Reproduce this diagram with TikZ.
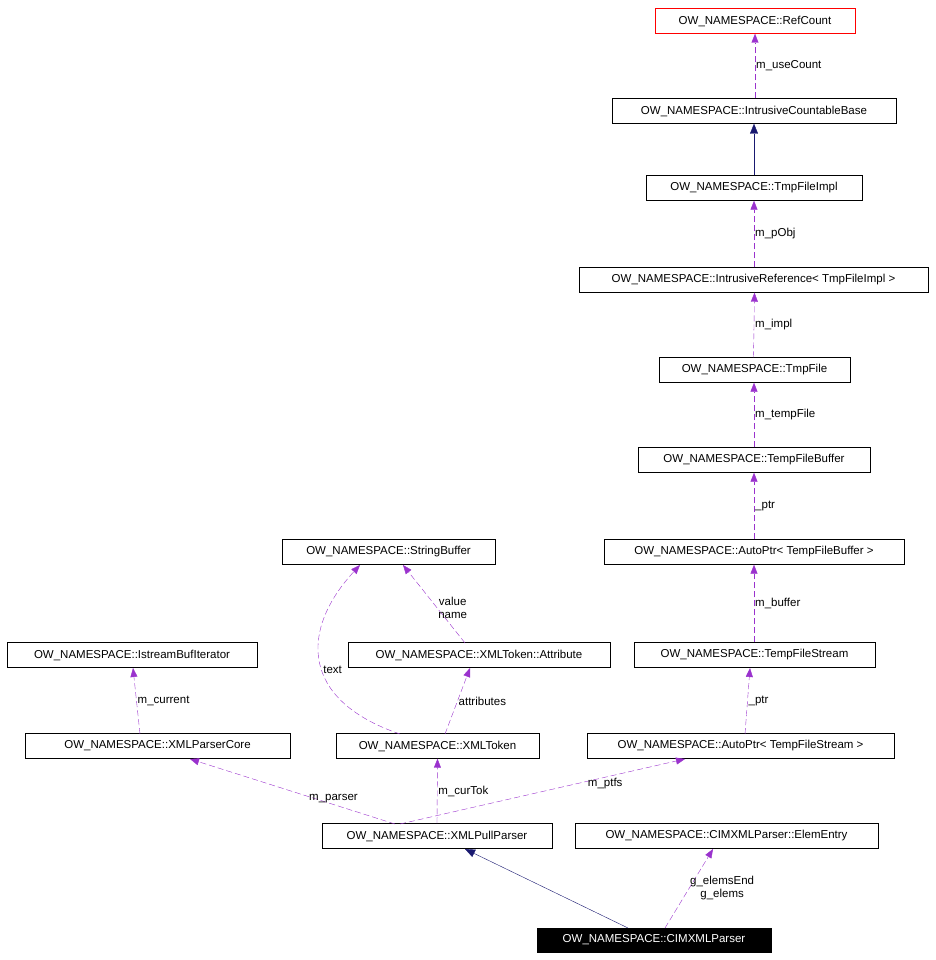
\documentclass[tikz,border=0pt]{standalone}
\usepackage{fontspec}
\setmainfont{Liberation Sans}
\usetikzlibrary{arrows.meta}
\definecolor{purp}{HTML}{9A32CD}
\definecolor{navyc}{HTML}{191970}
\begin{document}
\begin{tikzpicture}[x=1pt,y=-1pt,
  box/.style={draw,inner sep=0pt,minimum height=25pt,font=\fontsize{11.5}{13}\selectfont},
  use/.style={draw=purp,dashed,dash pattern=on 6pt off 3pt,-{Triangle[fill=purp,length=9pt,width=7pt]}},
  inh/.style={draw=navyc,-{Triangle[fill=navyc,length=10pt,width=8pt]}},
  lab/.style={font=\fontsize{11.5}{13}\selectfont,align=center,inner sep=1pt}]
\useasboundingbox (0,0) rectangle (935,960);
\node[box,draw=red,minimum width=200pt] (rc) at (755,21) {OW\_NAMESPACE::RefCount};
\node[box,minimum width=284pt] (icb) at (754,111) {OW\_NAMESPACE::IntrusiveCountableBase};
\node[box,minimum width=216pt] (tfi) at (754,188) {OW\_NAMESPACE::TmpFileImpl};
\node[box,minimum width=349pt] (ir) at (753.5,280) {OW\_NAMESPACE::IntrusiveReference< TmpFileImpl >};
\node[box,minimum width=191pt] (tf) at (754.5,370) {OW\_NAMESPACE::TmpFile};
\node[box,minimum width=232pt] (tfb) at (754,460) {OW\_NAMESPACE::TempFileBuffer};
\node[box,minimum width=300pt] (apb) at (754,552) {OW\_NAMESPACE::AutoPtr< TempFileBuffer >};
\node[box,minimum width=241pt] (tfs) at (754.5,655) {OW\_NAMESPACE::TempFileStream};
\node[box,minimum width=307pt] (aps) at (740.5,746) {OW\_NAMESPACE::AutoPtr< TempFileStream >};
\node[box,minimum width=213pt] (sb) at (388.5,552) {OW\_NAMESPACE::StringBuffer};
\node[box,minimum width=262pt] (att) at (479,655) {OW\_NAMESPACE::XMLToken::Attribute};
\node[box,minimum width=250pt] (ibi) at (132,655) {OW\_NAMESPACE::IstreamBufIterator};
\node[box,minimum width=265pt] (xpc) at (157.5,746) {OW\_NAMESPACE::XMLParserCore};
\node[box,minimum width=203pt] (xt) at (437.5,746) {OW\_NAMESPACE::XMLToken};
\node[box,minimum width=230pt] (xpp) at (437,836) {OW\_NAMESPACE::XMLPullParser};
\node[box,minimum width=303pt] (ee) at (726.5,836) {OW\_NAMESPACE::CIMXMLParser::ElemEntry};
\node[box,fill=black,text=white,minimum width=234pt,minimum height=24pt] (cim) at (654,940) {OW\_NAMESPACE::CIMXMLParser};

\draw[use] (icb.north -| rc) -- node[lab,right]{m\_useCount} (rc.south);
\draw[inh] (tfi.north) -- (icb.south);
\draw[use] (ir.north -| tfi) -- node[lab,right]{m\_pObj} (tfi.south);
\draw[use] (tf.north -| ir) -- node[lab,right]{m\_impl} (ir.south -| tf);
\draw[use] (tfb.north) -- node[lab,right]{m\_tempFile} (tfb.north |- tf.south);
\draw[use] (apb.north) -- node[lab,right]{\_ptr} (tfb.south);
\draw[use] (tfs.north -| apb) -- node[lab,right]{m\_buffer} (apb.south);
\coordinate (a1) at (745,734);
\coordinate (a2) at (750,668);
\draw[use] (a1) -- node[lab,right]{\_ptr} (a2);
\coordinate (p1) at (400,824); \coordinate (p2) at (685,759);
\draw[use] (p1) -- node[lab,pos=0.72,below]{m\_ptfs} (p2);
\draw[use] (xpp.north) -- node[lab,right]{m\_curTok} (xt.south);
\coordinate (p3) at (395,824); \coordinate (p4) at (190,759);
\draw[use] (p3) -- node[lab,pos=0.3,above]{m\_parser} (p4);
\coordinate (t1) at (400,734); \coordinate (t2) at (360,565);
\draw[use] (t1) .. controls (300,700) and (300,630) .. node[lab,right,pos=0.45]{text} (t2);
\coordinate (v1) at (465,643); \coordinate (v2) at (403,565);
\draw[use] (v1) -- node[lab,right,pos=0.45]{value\\name} (v2);
\coordinate (w1) at (445,734); \coordinate (w2) at (470,668);
\draw[use] (w1) -- node[lab,right]{attributes} (w2);
\coordinate (c1) at (140,734); \coordinate (c2) at (133,668);
\draw[use] (c1) -- node[lab,right]{m\_current} (c2);
\coordinate (n1) at (628,928); \coordinate (n2) at (465,849);
\draw[inh] (n1) -- (n2);
\coordinate (g1) at (665,928); \coordinate (g2) at (713,849);
\draw[use] (g1) -- node[lab,right,pos=0.5]{g\_elemsEnd\\g\_elems} (g2);
\end{tikzpicture}
\end{document}
